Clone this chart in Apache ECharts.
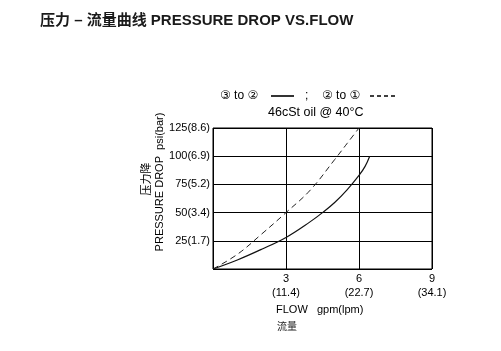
<!DOCTYPE html>
<html><head><meta charset="utf-8">
<script src="https://cdn.jsdelivr.net/npm/echarts@6/dist/echarts.min.js"></script>
<style>html,body{margin:0;padding:0;background:#fff}#c{width:501px;height:351px}</style>
</head><body><div id="c"></div>
<script>
var xTicks = [0, 3, 6, 9];
var xTickLabels = ['', '3\n(11.4)', '6\n(22.7)', '9\n(34.1)'];
var yTicks = [0, 25, 50, 75, 100, 125];
var yTickLabels = ['', '25(1.7)', '50(3.4)', '75(5.2)', '100(6.9)', '125(8.6)'];
var solidFlow = [0, 1, 2, 3, 4, 4.5, 5, 5.5, 6, 6.25, 6.44];
var solidPsi  = [0, 8, 17.5, 28, 42, 50, 59, 70, 83, 91, 100];
var dashFlow = [0, 1, 2, 3, 4, 5, 5.5, 6];
var dashPsi  = [0, 13, 31, 50, 70, 97, 111, 125];

function pairs(a, b) { return a.map(function (v, i) { return [v, b[i]]; }); }
var FF = 'Liberation Sans, Arial, sans-serif';
var chart = echarts.init(document.getElementById('c'));
chart.setOption({
  animation: false,
  grid: { left: 213, top: 128, width: 219, height: 141, show: true, borderColor: '#000', borderWidth: 1 },
  xAxis: {
    type: 'value', min: 0, max: 9, interval: 3,
    axisLine: { show: false }, axisTick: { show: false },
    splitLine: { show: true, lineStyle: { color: '#000', width: 1 } },
    axisLabel: { color: '#000', fontFamily: FF, fontSize: 11, lineHeight: 14, margin: 3,
      formatter: function (v) { var i = xTicks.indexOf(v); return i >= 0 ? xTickLabels[i] : ''; } }
  },
  yAxis: {
    type: 'value', min: 0, max: 125, interval: 25,
    axisLine: { show: false }, axisTick: { show: false },
    splitLine: { show: true, lineStyle: { color: '#000', width: 1 } },
    axisLabel: { color: '#000', fontFamily: FF, fontSize: 11, margin: 3,
      formatter: function (v) { var i = yTicks.indexOf(v); return i >= 0 ? yTickLabels[i] : ''; } }
  },
  series: [
    { type: 'line', data: pairs(solidFlow, solidPsi), smooth: 0.4, symbol: 'none',
      lineStyle: { color: '#111', width: 1.2 } },
    { type: 'line', data: pairs(dashFlow, dashPsi), smooth: 0.4, symbol: 'none',
      lineStyle: { color: '#222', width: 1, type: [6, 4] } }
  ],
  graphic: [
    { type: 'text', left: 40, top: 13, style: { text: '压力 – 流量曲线 PRESSURE DROP VS.FLOW', fill: '#1a1a1a',
      font: 'bold 15px "Liberation Sans", "Noto Sans CJK SC", sans-serif' } },
    { type: 'text', x: 220, y: 96, style: { text: '③ to ②', fill: '#000', font: '12px "Liberation Sans", "DejaVu Sans", sans-serif', textVerticalAlign: 'middle' } },
    { type: 'line', shape: { x1: 271, y1: 96, x2: 294, y2: 96 }, style: { stroke: '#000', lineWidth: 1.6 } },
    { type: 'text', x: 305, y: 96, style: { text: ';', fill: '#000', font: '12px "Liberation Sans", sans-serif', textVerticalAlign: 'middle' } },
    { type: 'text', x: 322, y: 96, style: { text: '② to ①', fill: '#000', font: '12px "Liberation Sans", "DejaVu Sans", sans-serif', textVerticalAlign: 'middle' } },
    { type: 'line', shape: { x1: 370, y1: 96, x2: 396, y2: 96 }, style: { stroke: '#000', lineWidth: 1.6, lineDash: [4, 3] } },
    { type: 'text', x: 268, y: 113, style: { text: '46cSt oil @ 40°C', fill: '#000', font: '12.5px "Liberation Sans", sans-serif', textVerticalAlign: 'middle' } },
    { type: 'text', x: 160, y: 182, rotation: Math.PI / 2, style: { text: 'PRESSURE DROP  psi(bar)', fill: '#000',
      font: '11px "Liberation Sans", sans-serif', textAlign: 'center', textVerticalAlign: 'middle' } },
    { type: 'text', x: 146, y: 179, rotation: Math.PI / 2, style: { text: '压力降', fill: '#000',
      font: '11px "Noto Sans CJK SC", sans-serif', textAlign: 'center', textVerticalAlign: 'middle' } },
    { type: 'text', x: 276, y: 310, style: { text: 'FLOW   gpm(lpm)', fill: '#000', font: '11px "Liberation Sans", sans-serif', textVerticalAlign: 'middle' } },
    { type: 'text', x: 277, y: 326, style: { text: '流量', fill: '#222', font: '10px "Noto Sans CJK SC", sans-serif', textVerticalAlign: 'middle' } }
  ]
});
</script></body></html>
